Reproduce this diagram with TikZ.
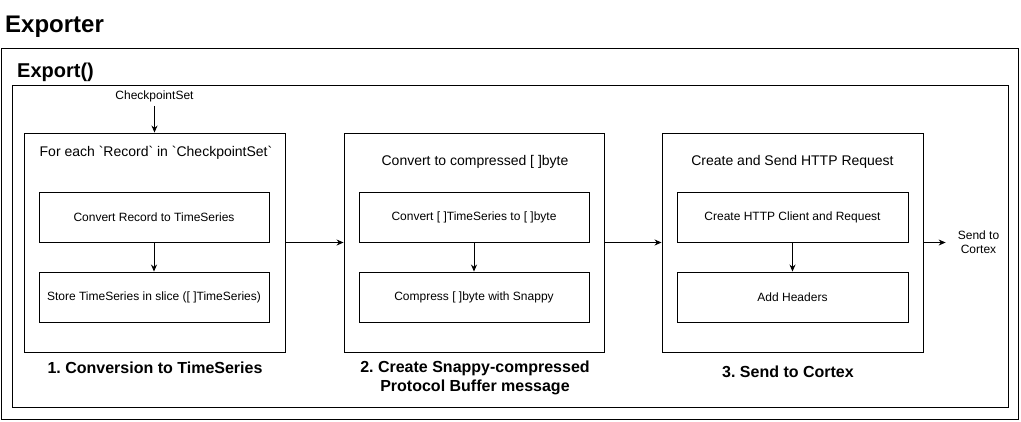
\documentclass[tikz,border=0pt]{standalone}
\usepackage{fontspec}
\setmainfont{Liberation Sans}
\usetikzlibrary{arrows.meta}
\frenchspacing
\tikzset{
  frame/.style={draw, line width=1pt, inner sep=0pt},
  boxx/.style={draw, line width=0.9pt, inner sep=0pt, minimum height=50pt},
  txt/.style={font=\fontsize{12}{14}\selectfont, align=center, inner sep=1pt},
  ttl/.style={font=\fontsize{14}{16}\selectfont, inner sep=1pt},
  lbl/.style={font=\fontsize{16}{19}\selectfont\bfseries, align=center, inner sep=1pt},
  arr/.style={line width=0.9pt, -{Stealth[length=7pt,width=6pt]}},
}
\newcommand{\bq}{\textasciigrave}
\begin{document}
\begin{tikzpicture}[x=1pt,y=-1pt]
\useasboundingbox (0,0) rectangle (1021,421);
% outer frames
\node[frame, minimum width=1017pt, minimum height=371pt] (exporter) at (509.5,233.5) {};
\node[frame, minimum width=996pt, minimum height=322pt] (export) at (510,246) {};
\node[anchor=base west, font=\fontsize{24}{28}\selectfont\bfseries, inner sep=0pt] (t1) at (5,32) {Exporter};
\node[anchor=base west, font=\fontsize{20}{24}\selectfont\bfseries, inner sep=0pt] (t2) at (17,77) {Export()};
% stage boxes
\node[frame, line width=0.9pt, minimum width=261pt, minimum height=219pt] (b1) at (154.5,242.5) {};
\node[frame, line width=0.9pt, minimum width=260pt, minimum height=219pt] (b2) at (474,242.5) {};
\node[frame, line width=0.9pt, minimum width=261pt, minimum height=219pt] (b3) at (792.5,242.5) {};
% titles
\node[ttl] (h1) at (156,153) {For each \bq Record\bq\ in \bq CheckpointSet\bq};
\node[ttl] (h2) at (475,162) {Convert to compressed [ ]byte};
\node[ttl] (h3) at (792.5,162) {Create and Send HTTP Request};
% inner boxes
\node[boxx, minimum width=230pt, txt] (b1a) at (154,217) {Convert Record to TimeSeries};
\node[boxx, minimum width=230pt, txt] (b1b) at (154,297) {Store TimeSeries in slice ([ ]TimeSeries)};
\node[boxx, minimum width=230pt, txt] (b2a) at (474,217) {Convert [ ]TimeSeries to [ ]byte};
\node[boxx, minimum width=230pt, txt] (b2b) at (474,297) {Compress [ ]byte with Snappy};
\node[boxx, minimum width=231pt, txt] (b3a) at (792.5,217) {Create HTTP Client and Request};
\node[boxx, minimum width=231pt, txt] (b3b) at (792.5,297) {Add Headers};
% labels
\node[lbl] (l1) at (155,368) {1. Conversion to TimeSeries};
\node[lbl] (l2) at (475,377.5) {2. Create Snappy-compressed\\Protocol Buffer message};
\node[lbl] (l3) at (788,372) {3. Send to Cortex};
% external
\node[txt] (cs) at (154.5,96) {CheckpointSet};
\node[txt, inner sep=0pt] (sc) at (978.5,242.5) {Send to\\Cortex};
% arrows
\draw[arr] (cs.south) ++(0,3) coordinate (csb) (csb) -- (b1.north);
\draw[arr] (b1a) -- (b1b);
\draw[arr] (b2a) -- (b2b);
\draw[arr] (b3a) -- (b3b);
\draw[arr] (b1.east) -- (b2.west);
\draw[arr] (b2.east) -- (b3.west);
\draw[arr, shorten >=12pt] (b3.east) -- (sc.west);
\end{tikzpicture}
\end{document}
